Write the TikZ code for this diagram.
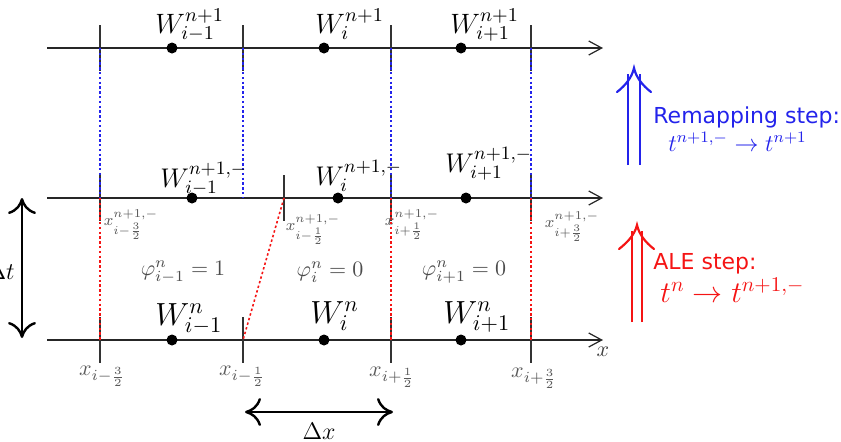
\RequirePackage{fix-cm}
\documentclass[tikz,border=0pt]{standalone}
\usepackage{fontspec}
\usetikzlibrary{arrows.meta}
\newfontfamily\sansstep{DejaVu Sans}
\definecolor{stepblue}{RGB}{35,35,235}
\definecolor{stepred}{RGB}{245,20,20}
\begin{document}
\begin{tikzpicture}[x=0.5pt,y=-0.5pt,
  axis/.style={line width=0.6pt, draw=black!85, -{Straight Barb[length=6.5pt,width=7pt,line width=0.6pt]}},
  tickmark/.style={line width=1.1pt, draw=black!80},
  dot/.style={circle, fill=black, inner sep=0pt, minimum size=5.5pt},
  wtop/.style={inner sep=0pt, anchor=base west, font=\fontsize{14}{16}\selectfont},
  wmid/.style={inner sep=0pt, anchor=base west, font=\fontsize{13.5}{16}\selectfont},
  wbot/.style={inner sep=0pt, anchor=base west, font=\fontsize{16}{18}\selectfont},
  xsmall/.style={inner sep=0pt, text=black!65, font=\fontsize{8}{9}\selectfont},
  xlab/.style={inner sep=0pt, text=black!65, font=\fontsize{11}{13}\selectfont},
  philab/.style={inner sep=0pt, text=black!70, font=\fontsize{11}{13}\selectfont},
  bluedots/.style={draw=stepblue, line width=0.8pt, dash pattern=on 1.2pt off 1.2pt},
  reddots/.style={draw=stepred, line width=0.8pt, dash pattern=on 1.2pt off 1.2pt},
  span/.style={line width=1.2pt, {To[length=8pt,width=14pt]}-{To[length=8pt,width=14pt]}},
  stepshaft/.style={line width=1.1pt},
]
\useasboundingbox (0,0) rectangle (841,441);

% axes
\coordinate (L1) at (47,48);  \coordinate (R1) at (603,48);
\coordinate (L2) at (47,198); \coordinate (R2) at (603,198);
\coordinate (L3) at (47,340); \coordinate (R3) at (603,340);
\draw[axis] (L1) -- (R1);
\draw[axis] (L2) -- (R2);
\draw[axis] (L3) -- (R3);

% interface points
\coordinate (a1) at (100,48);  \coordinate (a2) at (243,48);  \coordinate (a3) at (391,48);  \coordinate (a4) at (531,48);
\coordinate (b1) at (100,198); \coordinate (b2) at (284,198); \coordinate (b3) at (391,198); \coordinate (b4) at (531,198);
\coordinate (b2x) at (243,198);
\coordinate (c1) at (100,340); \coordinate (c2) at (243,340); \coordinate (c3) at (391,340); \coordinate (c4) at (531,340);

% ticks
\foreach \p in {a1,a2,a3,a4,b1,b2,b3,b4,c1,c2,c3,c4}
  \draw[tickmark] ([yshift=11.5pt]\p) -- ([yshift=-11.5pt]\p);

% dotted connectors
\draw[bluedots] (a1) -- (b1);
\draw[bluedots] (a2) -- (b2x);
\draw[bluedots] (a3) -- (b3);
\draw[bluedots] (a4) -- (b4);
\draw[reddots] (b1) -- (c1);
\draw[reddots] (b2) -- (c2);
\draw[reddots] (b3) -- (c3);
\draw[reddots] (b4) -- (c4);

% cell centres
\node[dot] (d1) at (172,48) {};
\node[dot] (d2) at (324,48) {};
\node[dot] (d3) at (461,48) {};
\node[dot] (e1) at (192,198) {};
\node[dot] (e2) at (338,198) {};
\node[dot] (e3) at (466,198) {};
\node[dot] (f1) at (172,340) {};
\node[dot] (f2) at (324,340) {};
\node[dot] (f3) at (461,340) {};

% W labels
\node[wtop] (wt1) at (155,33) {$W_{i-1}^{n+1}$};
\node[wtop] (wt2) at (315,33) {$W_{i}^{n+1}$};
\node[wtop] (wt3) at (450,33) {$W_{i+1}^{n+1}$};
\node[wmid] (wm1) at (160,187) {$W_{i-1}^{n+1,-}$};
\node[wmid] (wm2) at (315,185) {$W_{i}^{n+1,-}$};
\node[wmid] (wm3) at (445,172) {$W_{i+1}^{n+1,-}$};
\node[wbot] (wb1) at (155,325) {$W_{i-1}^{n}$};
\node[wbot] (wb2) at (310,323) {$W_{i}^{n}$};
\node[wbot] (wb3) at (443,323) {$W_{i+1}^{n}$};

% interface labels (middle)
\node[xsmall] (xm1) at (131,225) {$x_{i-\frac{3}{2}}^{n+1,-}$};
\node[xsmall] (xm2) at (313,230) {$x_{i-\frac{1}{2}}^{n+1,-}$};
\node[xsmall] (xm3) at (412,225) {$x_{i+\frac{1}{2}}^{n+1,-}$};
\node[xsmall] (xm4) at (572,227) {$x_{i+\frac{3}{2}}^{n+1,-}$};

% interface labels (bottom)
\node[xlab] (xb1) at (102,376) {$x_{i-\frac{3}{2}}$};
\node[xlab] (xb2) at (242,376) {$x_{i-\frac{1}{2}}$};
\node[xlab] (xb3) at (392,377) {$x_{i+\frac{1}{2}}$};
\node[xlab] (xb4) at (534,378) {$x_{i+\frac{3}{2}}$};
\node[inner sep=0pt, font=\fontsize{11}{13}\selectfont, text=black!75] (xaxis) at (603,352) {$x$};

% phi labels
\node[philab] (p1) at (183,272) {$\varphi_{i-1}^{n}=1$};
\node[philab] (p2) at (330,272) {$\varphi_{i}^{n}=0$};
\node[philab] (p3) at (464,272) {$\varphi_{i+1}^{n}=0$};

% Delta t
\coordinate (dtT) at (22,198);
\coordinate (dtB) at (22,338);
\draw[span] (dtB) -- (dtT);
\node[inner sep=0pt, anchor=east, font=\fontsize{12}{14}\selectfont] (dtl) at (15,271) {$\Delta t$};

% Delta x
\coordinate (dxL) at (245,412);
\coordinate (dxR) at (393,412);
\draw[span] (dxL) -- (dxR);
\node[inner sep=0pt, font=\fontsize{12}{14}\selectfont] (dxl) at (319,431) {$\Delta x$};

% remapping step arrow
\draw[stepblue, stepshaft] (628,165) -- (628,74);
\draw[stepblue, stepshaft] (640,165) -- (640,74);
\draw[stepblue, stepshaft, line cap=round] (617,92) .. controls (626,85) and (632,77) .. (634,68)
  .. controls (636,77) and (642,85) .. (651,92);
\node[anchor=base west, inner sep=0pt, text=stepblue, font=\sansstep\fontsize{11}{13}\selectfont] (rs) at (653,123) {Remapping step:};
\node[anchor=base west, inner sep=0pt, text=stepblue, font=\fontsize{12}{14}\selectfont] (rt) at (668,151) {$t^{n+1,-}\to t^{n+1}$};

% ALE step arrow
\draw[stepred, stepshaft] (632,322) -- (632,231);
\draw[stepred, stepshaft] (642,322) -- (642,231);
\draw[stepred, stepshaft, line cap=round] (619,249) .. controls (628,242) and (635,234) .. (637,225)
  .. controls (639,234) and (645,242) .. (654,249);
\node[anchor=base west, inner sep=0pt, text=stepred, font=\sansstep\fontsize{11}{13}\selectfont] (as) at (653,269) {ALE step:};
\node[anchor=base west, inner sep=0pt, text=stepred, font=\fontsize{15}{17}\selectfont] (at) at (660,302) {$t^{n}\to t^{n+1,-}$};
\end{tikzpicture}
\end{document}
